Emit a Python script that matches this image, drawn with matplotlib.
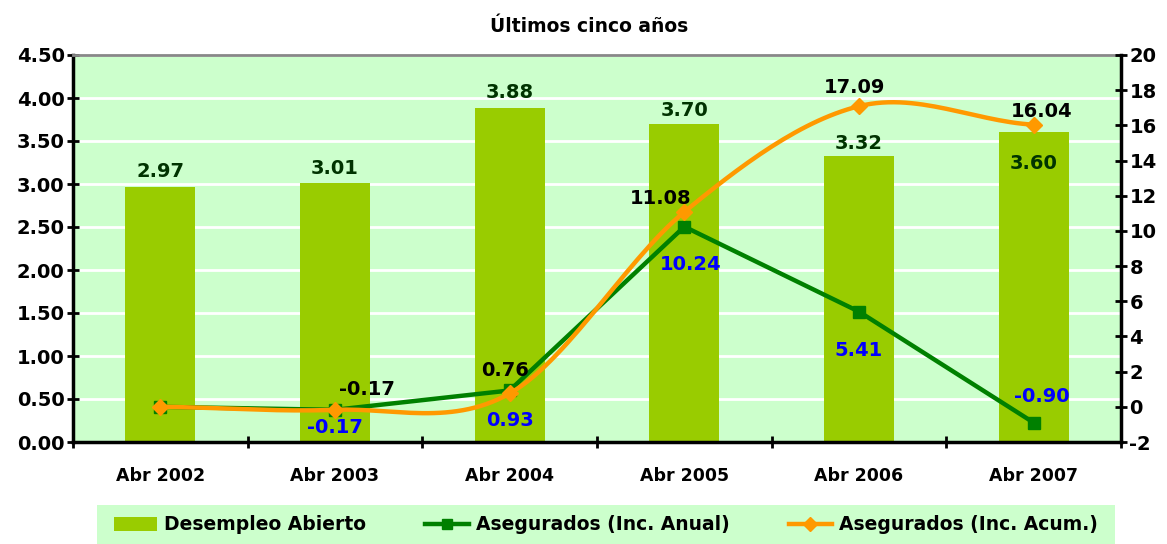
import numpy as np
import matplotlib
matplotlib.use("Agg")
import matplotlib.pyplot as plt
from matplotlib.lines import Line2D
from matplotlib.patches import Patch, Rectangle

plt.rcParams['font.family'] = ['DejaVu Sans']
plt.rcParams['font.weight'] = 'bold'
plt.rcParams['axes.unicode_minus'] = False

# data
years = ["Abr 2002", "Abr 2003", "Abr 2004", "Abr 2005", "Abr 2006", "Abr 2007"]
desempleo = [2.97, 3.01, 3.88, 3.70, 3.32, 3.60]
inc_anual = [0.0, -0.17, 0.93, 10.24, 5.41, -0.90]
inc_acum = [0.0, -0.17, 0.76, 11.08, 17.09, 16.04]

BAR = '#99CC00'
BG = '#CCFFCC'
GREEN = '#008000'
ORANGE = '#FF9900'


def smooth(x, y, n=30):
    """Excel-like smoothed line (Catmull-Rom through the points)."""
    x = np.asarray(x, float)
    y = np.asarray(y, float)
    m = np.zeros_like(y)
    m[1:-1] = (y[2:] - y[:-2]) / 2
    m[0] = (y[1] - y[0]) / 2
    m[-1] = (y[-1] - y[-2]) / 2
    xs, ys = [], []
    for i in range(len(x) - 1):
        t = np.linspace(0, 1, n, endpoint=False)
        h00 = 2 * t**3 - 3 * t**2 + 1
        h10 = t**3 - 2 * t**2 + t
        h01 = -2 * t**3 + 3 * t**2
        h11 = t**3 - t**2
        xs.append(x[i] + t * (x[i + 1] - x[i]))
        ys.append(h00 * y[i] + h10 * m[i] + h01 * y[i + 1] + h11 * m[i + 1])
    xs.append([x[-1]])
    ys.append([y[-1]])
    return np.concatenate(xs), np.concatenate(ys)


fig = plt.figure(figsize=(11.67, 5.44), dpi=100)
ax = fig.add_axes([73 / 1167, 1 - 442 / 544, (1121 - 73) / 1167, (442 - 55) / 544])
ax.set_facecolor(BG)
x = np.arange(len(years))

ax.bar(x, desempleo, width=0.4, color=BAR, zorder=2)
ax.set_xlim(-0.5, 5.5)
ax.set_ylim(0, 4.5)
ax.set_yticks(np.arange(0, 4.51, 0.5))
ax.set_yticklabels([f"{v:.2f}" for v in np.arange(0, 4.51, 0.5)])
ax.yaxis.grid(True, color='white', lw=2, zorder=1)
ax.set_axisbelow(True)
ax.set_xticks(x)
ax.set_xticklabels(years)
ax.set_xticks(np.arange(-0.5, 5.6, 1), minor=True)
ax.tick_params(axis='x', which='major', length=0, pad=18, labelsize=12.5)
ax.tick_params(axis='x', which='minor', length=8, width=2, direction='inout')
ax.tick_params(axis='y', length=8, width=2, direction='inout', labelsize=14, pad=2)
for s in ['left', 'bottom']:
    ax.spines[s].set_linewidth(2.5)
ax.spines['top'].set_color('#888888')
ax.spines['top'].set_linewidth(2)
ax.spines['right'].set_visible(False)

# bar labels
bar_offsets = [15, 15, 16, 13, 13, -31]
for xi, v, off in zip(x, desempleo, bar_offsets):
    ax.annotate(f"{v:.2f}", (xi, v), xytext=(0, off), textcoords='offset pixels',
                ha='center', va='center', color='#003300', fontsize=14, fontweight='bold', zorder=5)

ax2 = ax.twinx()
ax2.set_ylim(-2, 20)
ax2.set_yticks(np.arange(-2, 21, 2))
ax2.tick_params(axis='y', length=8, width=2, direction='inout', labelsize=14, pad=2)
ax2.spines['right'].set_linewidth(2.5)
for s in ['left', 'top', 'bottom']:
    ax2.spines[s].set_visible(False)

sx, sy = smooth(x, inc_acum)
ax2.plot(x, inc_anual, color=GREEN, lw=3.2, marker='s', ms=8, zorder=3)
ax2.plot(sx, sy, color=ORANGE, lw=3.2, zorder=4)
ax2.plot(x, inc_acum, ls='none', marker='D', ms=8, color=ORANGE, zorder=4)

acum_offsets = [None, (32, 20), (-5, 23), (-24, 13), (-5, 19), (8, 13)]
for xi, v, off in zip(x, inc_acum, acum_offsets):
    if off is None:
        continue
    ax2.annotate(f"{v:.2f}", (xi, v), xytext=off, textcoords='offset pixels',
                 ha='center', va='center', color='black', fontsize=14, fontweight='bold', zorder=6)

anual_offsets = [None, (0, -18), (0, -30), (6, -38), (0, -39), (8, 26)]
for xi, v, off in zip(x, inc_anual, anual_offsets):
    if off is None:
        continue
    ax2.annotate(f"{v:.2f}", (xi, v), xytext=off, textcoords='offset pixels',
                 ha='center', va='center', color='#0000FF', fontsize=14, fontweight='bold', zorder=6)

fig.text(589 / 1167, 1 - 27 / 544, "Últimos cinco años", ha='center', va='center',
         fontsize=13.5, fontweight='bold')

# legend
fig.patches.append(Rectangle((97 / 1167, 0), (1115 - 97) / 1167, 39 / 544,
                             transform=fig.transFigure, facecolor=BG, edgecolor='none'))
handles = [Patch(facecolor=BAR, edgecolor='none'),
           Line2D([], [], color=GREEN, lw=3.2, marker='s', ms=7),
           Line2D([], [], color=ORANGE, lw=3.2, marker='D', ms=7)]
labels = ["Desempleo Abierto", "Asegurados (Inc. Anual)", "Asegurados (Inc. Acum.)"]
fig.legend(handles, labels, loc='center', bbox_to_anchor=(606 / 1167, 19 / 544), ncol=3,
           frameon=False, fontsize=13.5, handlelength=2.3, columnspacing=3.15, handletextpad=0.4)

fig.savefig("out.png", dpi=100)
